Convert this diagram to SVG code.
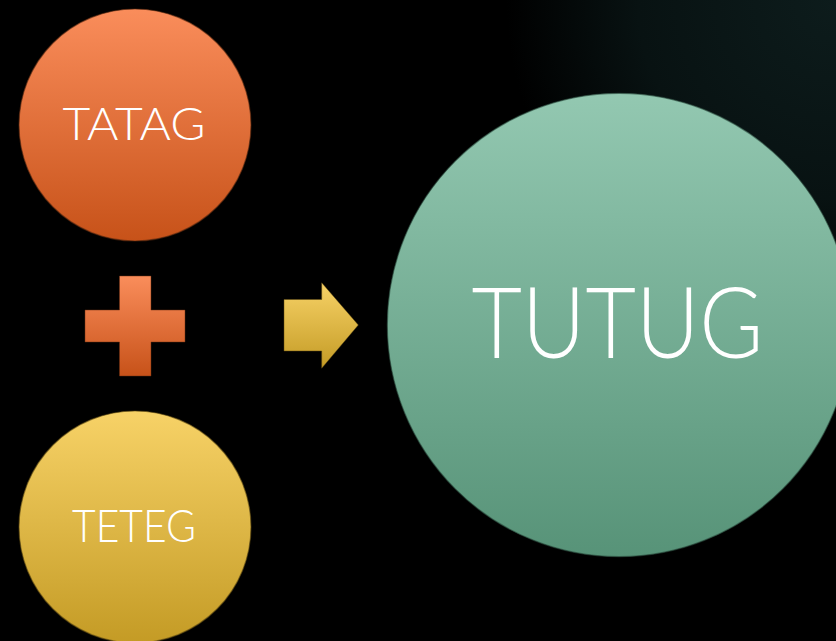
<svg xmlns="http://www.w3.org/2000/svg" width="836" height="641" viewBox="0 0 836 641">
<defs>
<radialGradient id="bg" cx="836" cy="0" r="330" gradientUnits="userSpaceOnUse">
<stop offset="0" stop-color="#0d1c1c"/>
<stop offset="0.6" stop-color="#081212"/>
<stop offset="1" stop-color="#000000"/>
</radialGradient>
<linearGradient id="gOrange" x1="0" y1="0" x2="0" y2="1">
<stop offset="0" stop-color="#fa8d5b"/>
<stop offset="1" stop-color="#c75219"/>
</linearGradient>
<linearGradient id="gYellow" x1="0" y1="0" x2="0" y2="1">
<stop offset="0" stop-color="#f7d267"/>
<stop offset="1" stop-color="#c49b25"/>
</linearGradient>
<linearGradient id="gTeal" x1="0" y1="0" x2="0" y2="1">
<stop offset="0" stop-color="#93c8b1"/>
<stop offset="1" stop-color="#579378"/>
</linearGradient>
</defs>
<style>
.lbl{fill:#ffffff;font-family:Lato,"Liberation Sans",sans-serif;font-weight:300;text-anchor:middle}
.edge{stroke-width:1.2;stroke-opacity:0.6}
</style>
<rect width="836" height="641" fill="url(#bg)"/>
<g id="tatag">
<circle cx="135" cy="125" r="116" fill="url(#gOrange)" stroke="#5a2a10" class="edge"/>
<text class="lbl" x="134" y="140" font-size="46" textLength="143" lengthAdjust="spacingAndGlyphs">TATAG</text>
</g>
<g id="teteg">
<circle cx="135" cy="527" r="116" fill="url(#gYellow)" stroke="#5e4a12" class="edge"/>
<text class="lbl" x="134" y="541.5" font-size="46" textLength="124" lengthAdjust="spacingAndGlyphs">TETEG</text>
</g>
<g id="tutug">
<circle cx="619" cy="325" r="231.7" fill="url(#gTeal)" stroke="#2a4a3c" class="edge"/>
<text class="lbl" x="617.5" y="358" font-size="99" textLength="292" lengthAdjust="spacingAndGlyphs">TUTUG</text>
</g>
<g id="connectors">
<g id="plus">
<path d="M119.5,276 H151 V310 H185 V342 H151 V376 H119.5 V342 H85 V310 H119.5 Z" fill="url(#gOrange)" stroke="#6a2f12" stroke-width="0.8" stroke-opacity="0.6"/>
</g>
<g id="arrow">
<path d="M284,299.5 H321.7 V282.7 L358.3,325 L321.7,368.3 V351 H284 Z" fill="url(#gYellow)" stroke="#5e4a12" stroke-width="0.8" stroke-opacity="0.6"/>
</g>
</g>
</svg>
